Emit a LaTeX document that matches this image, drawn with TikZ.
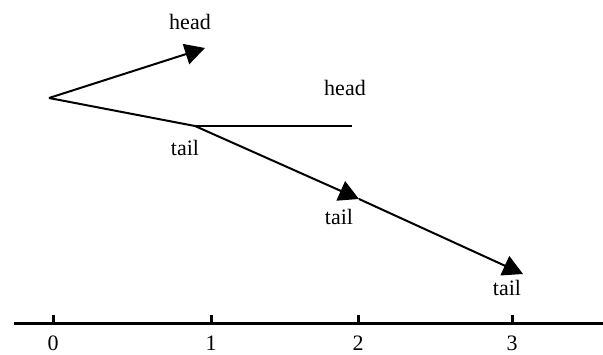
\documentclass[tikz,border=0pt]{standalone}
\usepackage{fontspec}
\setmainfont{Liberation Serif}
\usetikzlibrary{arrows.meta}
\begin{document}
\begin{tikzpicture}[x=1pt,y=-1pt,
  lbl/.style={inner sep=0pt,font=\fontsize{22}{26}\selectfont},
  vec/.style={line width=2pt,-{Triangle[length=20pt,width=21pt]}},
  seg/.style={line width=2pt},
  axisline/.style={line width=3pt},
  tickmark/.style={line width=3pt}]
\useasboundingbox (0,0) rectangle (603,354);
% points
\coordinate (O) at (49,98);
\coordinate (H1) at (205,48);
\coordinate (J) at (195,126);
\coordinate (E) at (352,126);
\coordinate (T2) at (359,199);
\coordinate (T3) at (523,274);
% labels
\node[lbl] (head1) at (190,22) {head};
\node[lbl] (head2) at (345,88) {head};
\node[lbl] (tail1) at (185,148) {tail};
\node[lbl] (tail2) at (339,217) {tail};
\node[lbl] (tail3) at (507,288) {tail};
% vectors
\draw[vec] (O) -- (H1);
\draw[seg] (O) -- (J);
\draw[seg] (J) -- (E);
\draw[vec] (J) -- (T2);
\draw[vec] (T2) -- (T3);
% axis
\coordinate (AL) at (14,323);
\coordinate (AR) at (603,323);
\draw[axisline] (AL) -- (AR);
\foreach \x/\n [count=\i from 0] in {53/0,211/1,358/2,512/3}{
  \coordinate (tk\i) at (\x,323);
  \draw[tickmark] (tk\i) -- ++(0,-8);
  \node[lbl] (num\i) at (\x,343) {\n};
}
\end{tikzpicture}
\end{document}
